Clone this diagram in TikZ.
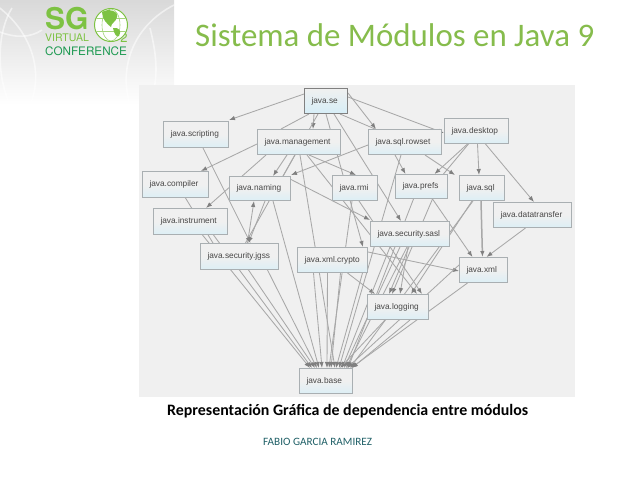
\documentclass[tikz,border=0pt]{standalone}
\usepackage{fontspec}
\setmainfont{Carlito}
\newfontfamily\boxfont{Liberation Sans}
\newfontfamily\logofont{TeX Gyre Heros}
\usetikzlibrary{arrows.meta,backgrounds}
\definecolor{panelbg}{HTML}{F0F0F0}
\definecolor{edgecol}{HTML}{A8A8A8}
\definecolor{tipcol}{HTML}{808080}
\definecolor{boxline}{HTML}{A9AFB2}
\definecolor{boxblue}{HTML}{D6EEF7}
\definecolor{titlegreen}{HTML}{86BC4C}
\definecolor{logogreen}{HTML}{7DC242}
\definecolor{logodark}{HTML}{1E9A52}
\definecolor{authorcol}{HTML}{1F5F66}
\tikzset{
  x=1pt,y=-1pt,
  mod/.style={draw=boxline,line width=1pt,top color=panelbg,bottom color=boxblue!75!panelbg,
    middle color=panelbg,shading angle=0,inner ysep=0pt,inner xsep=7pt,text=black!72,align=left,
    font=\boxfont\fontsize{8.3}{10}\selectfont},
  edge/.style={draw=edgecol,line width=0.85pt,-{Latex[length=6pt,width=4.5pt,color=tipcol]}},
  plain/.style={draw=edgecol,line width=0.85pt},
  thick edge/.style={edge,line width=1.5pt},
  globeline/.style={draw=logogreen!70!white,line width=0.6pt},
  backarc/.style={draw=white,line width=1.6pt,opacity=0.55}
}
\newcommand{\modbox}[7][]{% options, name, x1,y1,x2,y2,text
  \pgfmathsetmacro{\modtw}{#5-#3-14}%
  \pgfmathsetmacro{\modw}{#5-#3}%
  \pgfmathsetmacro{\modh}{#6-#4}%
  \node[mod,text width=\modtw pt,minimum width=\modw pt,minimum height=\modh pt,anchor=north west,#1] (#2) at (#3,#4) {#7};}
\begin{document}
\begin{tikzpicture}
\useasboundingbox (0,0) rectangle (638,479);
% title
\node[anchor=west,inner sep=0pt,text=titlegreen,font=\fontsize{32.9}{34}\selectfont] (title) at (195,35) {Sistema de Módulos en Java 9};
% modules
\modbox[draw=black!50,bottom color=boxblue]{se}{304}{88}{347}{113}{java.se}
\modbox{scripting}{163}{121}{228}{147}{java.scripting}
\modbox{management}{257}{129}{340}{154}{java.management}
\modbox{rowset}{368}{129}{441}{154}{java.sql.rowset}
\modbox{desktop}{444}{118}{508}{143}{java.desktop}
\modbox{compiler}{142}{171}{208}{197}{java.compiler}
\modbox{naming}{229}{176}{290}{200}{java.naming}
\modbox{rmi}{332}{175}{377}{200}{java.rmi}
\modbox{prefs}{395}{174}{447}{198}{java.prefs}
\modbox{sql}{459}{175}{504}{200}{java.sql}
\modbox{datatransfer}{493}{202}{571}{227}{java.datatransfer}
\modbox{instrument}{153}{208}{227}{234}{java.instrument}
\modbox{sasl}{370}{221}{449}{246}{java.security.sasl}
\modbox{jgss}{200}{243}{278}{269}{java.security.jgss}
\modbox{crypto}{297}{247}{367}{272}{java.xml.crypto}
\modbox{xml}{459}{257}{507}{282}{java.xml}
\modbox{logging}{367}{294}{428}{319}{java.logging}
\modbox{base}{299}{368}{352}{393}{java.base}
% captions
\node[anchor=west,inner sep=0pt,font=\bfseries\fontsize{15.9}{18}\selectfont] (caption) at (167,411) {Representación Gráfica de dependencia entre módulos};
\node[anchor=west,inner sep=0pt,text=authorcol,font=\fontsize{11.2}{13}\selectfont] (author) at (263,442) {FABIO GARCIA RAMIREZ};
% backdrop, panel and connectors behind the modules
\begin{scope}[on background layer]
\shade[top color=black!15,bottom color=white] (0,0) rectangle (174,105);
\begin{scope}
\clip (0,0) rectangle (174,105);
\draw[backarc] (-12,0) .. controls (30,25) and (45,70) .. (30,105);
\draw[backarc] (12,8) .. controls (-2,30) and (-4,70) .. (8,100);
\draw[backarc] (0,32) .. controls (15,38) and (30,38) .. (42,30);
\draw[backarc] (174,5) .. controls (135,25) and (118,65) .. (130,105);
\draw[backarc] (150,28) .. controls (158,60) and (158,80) .. (150,105);
\end{scope}
\fill[panelbg] (139,85) rectangle (575,397);
% java.se
\draw[edge] ([yshift=7pt]se.west) -- ([yshift=1pt]scripting.north east);
\draw[edge] ([xshift=-12pt]se.south) -- ([xshift=14pt]management.north);
\draw[plain] ([xshift=-17pt]se.south) -- ([xshift=-18pt]management.north);
\draw[plain] ([xshift=-8pt]se.south) -- ([xshift=-8pt]naming.north east);
\draw[edge] (se.south) -- ([xshift=-5pt]crypto.north east |- crypto.north);
\draw[edge] ([xshift=8pt]se.south) -- ([xshift=-9pt]sasl.north);
\draw[plain] ([xshift=14pt]se.south) -- ([xshift=-30pt]rowset.north);
\draw[edge] ([yshift=8pt]se.east) -- ([xshift=-29pt]rowset.north);
\draw[edge] ([yshift=4pt]se.east) -- ([yshift=-2pt]desktop.west);
% java.management
\draw[edge] ([yshift=-2pt]management.west) -- ([xshift=-8pt]compiler.north east);
\draw[edge] ([xshift=-33pt]management.south) -- ([xshift=-22pt]instrument.north east);
\draw[edge] ([xshift=-12pt]management.south) -- ([xshift=13pt]naming.north);
\draw[plain] ([xshift=-4pt]management.south) -- ([xshift=6pt]jgss.north);
\draw[edge] ([xshift=1pt]management.south) -- ([xshift=9pt]base.north);
\draw[edge] ([xshift=10pt]management.south) -- ([xshift=-22pt]rmi.north east);
\draw[edge] ([xshift=8pt]management.south) -- ([xshift=-12pt]logging.north east |- logging.north);
% java.sql.rowset
\draw[edge] ([yshift=-3pt]rowset.west) -- ([yshift=1pt]naming.north east);
\draw[edge] ([xshift=-10pt]rowset.south) -- ([xshift=-16pt]prefs.north);
\draw[edge] ([xshift=20pt]rowset.south) -- ([xshift=-4pt]sql.north west);
\draw[edge] ([xshift=-4pt]rowset.south) -- ([xshift=13pt]base.north);
% java.desktop
\draw[edge] ([xshift=-9pt]desktop.south) -- ([xshift=13pt]prefs.north);
\draw[plain] ([xshift=-8pt]desktop.south) -- ([xshift=22pt]prefs.north);
\draw[edge] ([xshift=1pt]desktop.south) -- ([xshift=-3pt]sql.north);
\draw[edge] ([xshift=9pt]desktop.south) -- ([xshift=-38pt]datatransfer.north east);
% java.naming
\draw[edge] ([xshift=5pt]naming.south) -- ([xshift=9pt]jgss.north);
\draw[edge] ([xshift=13pt]naming.south) -- ([xshift=-7pt]base.north);
\draw[edge] ([yshift=9pt]naming.east) -- ([yshift=1pt]sasl.north west);
\draw[edge] ([xshift=8pt]jgss.north) -- ([xshift=-6pt]naming.south);
% java.scripting, compiler, instrument
\draw[edge] ([xshift=7pt]scripting.south) -- ([xshift=11pt]jgss.north);
\draw[plain] ([xshift=10pt]compiler.south) -- ([xshift=13pt]jgss.north west);
\draw[edge] ([xshift=12pt]instrument.south) -- ([xshift=11pt]base.north west);
\draw[edge] ([xshift=23pt]instrument.south) -- ([xshift=-14pt]base.north);
% java.security.jgss
\draw[edge] ([xshift=9pt]jgss.south) -- ([xshift=-11pt]base.north);
\draw[edge] ([xshift=28pt]jgss.south) -- ([xshift=-9pt]base.north);
% java.rmi
\draw[edge] ([xshift=-3pt]rmi.south) -- ([xshift=3pt]base.north);
\draw[edge] ([xshift=4pt]rmi.south) -- ([xshift=-7pt]logging.north east |- logging.north);
% java.xml.crypto
\draw[edge] ([xshift=-19pt]crypto.south) -- ([xshift=-4pt]base.north);
\draw[edge] ([xshift=-5pt]crypto.south) -- ([xshift=1pt]base.north);
\draw[edge] ([xshift=8pt]crypto.south) -- ([xshift=5pt]base.north);
\draw[edge] ([xshift=30pt]crypto.south) -- ([xshift=10pt]base.north);
\draw[edge] ([xshift=15pt]crypto.south) -- ([xshift=8pt]logging.north west);
\draw[edge] ([yshift=8pt]crypto.east) -- ([yshift=-1pt]xml.west);
% java.security.sasl
\draw[edge] ([xshift=-20pt]sasl.south) -- ([xshift=16pt]base.north);
\draw[edge] ([xshift=-10pt]sasl.south) -- ([xshift=18pt]base.north);
\draw[edge] ([xshift=-3pt]sasl.south) -- ([xshift=20pt]base.north);
\draw[edge] ([xshift=-2pt]sasl.south) -- ([xshift=2pt]logging.north);
\draw[edge] ([xshift=-1pt]sasl.south) -- ([xshift=-9pt]logging.north);
% java.prefs
\draw[edge] ([xshift=-8pt]prefs.south) -- ([xshift=22pt]base.north);
\draw[edge] ([xshift=11pt]prefs.south) -- ([xshift=-6pt]logging.north);
\draw[edge] ([xshift=11pt]prefs.south) -- ([xshift=-11pt]xml.north);
% java.sql
\draw[thick edge] ([xshift=-1pt]sql.south) -- ([xshift=-1pt]xml.north);
\draw[edge] ([xshift=-10pt]sql.south) -- ([xshift=13pt]logging.north);
\draw[edge] ([xshift=-9pt]sql.south) -- ([xshift=24pt]base.north);
% java.datatransfer
\draw[edge] ([xshift=-7pt]datatransfer.south) -- ([xshift=3pt]xml.north);
% java.xml
\draw[edge] ([yshift=5pt]xml.west) -- ([xshift=21pt]base.north);
\draw[edge] ([xshift=-16pt]xml.south) -- ([xshift=25pt]base.north);
% java.logging
\draw[edge] ([xshift=-13pt]logging.south) -- ([xshift=14pt]base.north);
\draw[edge] ([xshift=12pt]logging.south) -- ([xshift=26pt]base.north);
\end{scope}
% logo
\node[anchor=west,inner sep=0pt,text=logogreen,font=\logofont\bfseries\fontsize{30}{30}\selectfont] (sg) at (45,18.5) {SG};
\node[anchor=west,inner sep=0pt,text=logogreen,font=\logofont\fontsize{10.5}{10.5}\selectfont] (virt) at (45,37.5) {VIRTUAL};
\node[anchor=west,inner sep=0pt,text=logodark,font=\logofont\fontsize{11.7}{11.7}\selectfont] (conf) at (45,51.5) {CONFERENCE};
\node[inner sep=0pt,text=logogreen,font=\logofont\fontsize{13}{13}\selectfont] (two) at (124,38) {2};
\draw[logogreen,line width=1pt,fill=white] (111,25) circle (16.5);
\begin{scope}
\clip (111,25) circle (16);
\draw[globeline] (111,25) ellipse (9 and 16);
\draw[globeline] (95,18) -- (127,18) (95,31) -- (127,31);
\fill[logogreen] (102,12) .. controls (108,8) and (119,11) .. (117,17) .. controls (116,22) and (111,23) .. (111,27) .. controls (107,24) and (102,19) .. cycle;
\fill[logogreen] (113,28) .. controls (119,27) and (122,31) .. (119,36) .. controls (117,38) and (114,34) .. cycle;
\end{scope}
\end{tikzpicture}
\end{document}
